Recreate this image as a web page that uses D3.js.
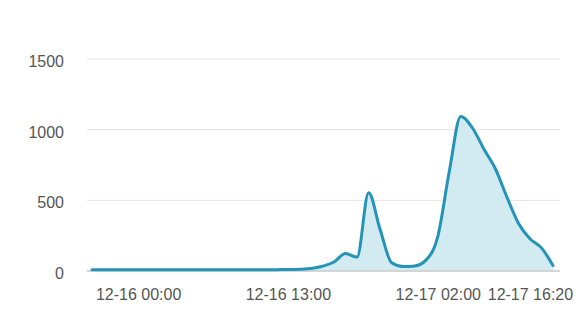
<!DOCTYPE html>
<html>
<head>
<meta charset="utf-8">
<script src="https://cdn.jsdelivr.net/npm/d3@7"></script>
<style>
  body { margin: 0; background: #fff; }
  svg text { font-family: "Liberation Sans", Arial, sans-serif; }
</style>
</head>
<body>
<div class="myChart"></div>
<script>
// categories (time labels), irregular sampling at the end
const times = [
  "12-15 20:00", "12-15 21:00", "12-15 22:00", "12-15 23:00", "12-16 00:00",
  "12-16 01:00", "12-16 02:00", "12-16 03:00", "12-16 04:00", "12-16 05:00",
  "12-16 06:00", "12-16 07:00", "12-16 08:00", "12-16 09:00", "12-16 10:00",
  "12-16 11:00", "12-16 12:00", "12-16 13:00", "12-16 14:00", "12-16 15:00",
  "12-16 16:00", "12-16 17:00", "12-16 18:00", "12-16 19:00", "12-16 20:00",
  "12-16 21:00", "12-16 22:00", "12-16 23:00", "12-17 00:00", "12-17 01:00",
  "12-17 02:00", "12-17 03:00", "12-17 04:00", "12-17 06:00", "12-17 08:00",
  "12-17 10:00", "12-17 12:00", "12-17 14:00", "12-17 16:20", "12-17 18:00",
  "12-17 20:00"
];
const values = [
  5, 5, 5, 5, 5, 5, 5, 5, 5, 5,
  5, 5, 5, 5, 5, 5, 6, 7, 9, 14,
  30, 60, 120, 95, 550, 290, 55, 28, 32, 75,
  240, 700, 1090, 1010, 860, 720, 520, 335, 225, 160,
  35
];
const xTicks = ["12-16 00:00", "12-16 13:00", "12-17 02:00", "12-17 16:20"];
const yTicks = [0, 500, 1000, 1500];

const width = 587, height = 310;
const svg = d3.select(".myChart").append("svg")
  .attr("width", width).attr("height", height);

const x = d3.scalePoint().domain(times).range([92, 553]);
const y = d3.scaleLinear().domain([0, 1500]).range([270.5, 58.5]);

// grid lines + y labels
const gy = svg.append("g").attr("transform", "translate(87,0)")
  .call(d3.axisLeft(y).tickValues(yTicks).tickFormat(d3.format("d")).tickSize(-473).tickPadding(23));
gy.select(".domain").remove();
gy.selectAll(".tick line").attr("stroke", "#e3e3e3");
gy.selectAll(".tick text").attr("fill", "#555").attr("font-size", 16).attr("dy", "0.5em");

// area + line
const area = d3.area()
  .x((d, i) => x(times[i]))
  .y0(y(0))
  .y1(d => y(d))
  .curve(d3.curveMonotoneX);
const line = d3.line()
  .x((d, i) => x(times[i]))
  .y(d => y(d))
  .curve(d3.curveMonotoneX);

svg.append("path").datum(values)
  .attr("d", area).attr("fill", "#d2ebf1");

// x axis
const gx = svg.append("g").attr("transform", "translate(0," + 271 + ")")
  .call(d3.axisBottom(x).tickValues(xTicks).tickSize(0).tickPadding(18));
gx.select(".domain").attr("d", "M87,0H560").attr("stroke", "#ccc").attr("stroke-width", 1.5);
gx.selectAll(".tick text").attr("fill", "#555").attr("font-size", 16);

svg.append("path").datum(values)
  .attr("d", line).attr("fill", "none")
  .attr("stroke", "#2394b8").attr("stroke-width", 3)
  .attr("stroke-linejoin", "round").attr("stroke-linecap", "round");
</script>
</body>
</html>
